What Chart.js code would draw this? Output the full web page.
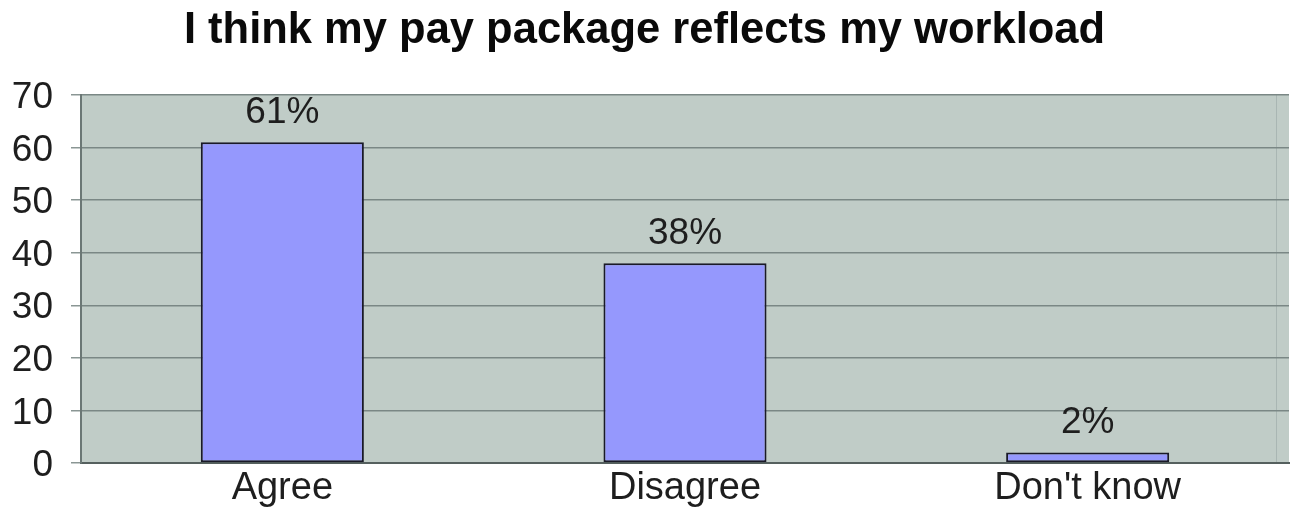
<!DOCTYPE html>
<html>
<head>
<meta charset="utf-8">
<title>I think my pay package reflects my workload</title>
<script src="https://cdn.jsdelivr.net/npm/chart.js@4.4.1/dist/chart.umd.min.js"></script>
<style>
  html, body { margin: 0; padding: 0; background: #ffffff; }
  #wrap { width: 1290px; height: 509px; }
</style>
</head>
<body>
<div id="wrap"><canvas id="chart" width="1290" height="509"></canvas></div>
<script>
// Survey responses (percent of respondents)
const categories = ["Agree", "Disagree", "Don't know"];
const percentValues = [61, 38, 2];
const valueLabels = ["61%", "38%", "2%"];
const yTicks = [0, 10, 20, 30, 40, 50, 60, 70];

const FONT = "'Liberation Sans', Arial, Helvetica, sans-serif";

// Grey-green plot background and frame
const plotBackground = {
  id: 'plotBackground',
  beforeDraw(chart) {
    const { ctx, chartArea: a } = chart;
    ctx.save();
    ctx.fillStyle = '#c0ccc7';
    ctx.fillRect(a.left, a.top, a.right - a.left, a.bottom - a.top);
    ctx.strokeStyle = '#a9b6b3';
    ctx.lineWidth = 1;
    ctx.beginPath();
    ctx.moveTo(a.right - 12.5, a.top);
    ctx.lineTo(a.right - 12.5, a.bottom);
    ctx.stroke();
    ctx.restore();
  }
};

// Percentage text above each bar
const barValueLabels = {
  id: 'barValueLabels',
  afterDatasetsDraw(chart) {
    const { ctx } = chart;
    const meta = chart.getDatasetMeta(0);
    ctx.save();
    ctx.font = `37px ${FONT}`;
    ctx.fillStyle = '#1e1e1e';
    ctx.textAlign = 'center';
    ctx.textBaseline = 'alphabetic';
    meta.data.forEach((bar, i) => {
      ctx.fillText(valueLabels[i], bar.x, bar.y - 19);
    });
    ctx.restore();
  }
};

new Chart(document.getElementById('chart'), {
  type: 'bar',
  data: {
    labels: categories,
    datasets: [{
      data: percentValues,
      backgroundColor: '#9598fd',
      borderColor: '#1a1a28',
      borderWidth: 2,
      borderSkipped: false,
      barPercentage: 0.405,
      categoryPercentage: 1.0
    }]
  },
  options: {
    responsive: false,
    animation: false,
    layout: { padding: { left: 0, right: 1, top: 0, bottom: 0 } },
    plugins: {
      legend: { display: false },
      tooltip: { enabled: false },
      title: {
        display: true,
        text: 'I think my pay package reflects my workload',
        color: '#0a0a0a',
        font: { family: FONT, size: 43.5, weight: 'bold', lineHeight: 1.2 },
        padding: { top: 5, bottom: 37.8 }
      }
    },
    scales: {
      x: {
        offset: true,
        grid: { display: false },
        border: { display: true, color: '#55605e', width: 2 },
        ticks: {
          color: '#1e1e1e',
          font: { family: FONT, size: 38 },
          padding: -5,
          maxRotation: 0
        },
        afterFit(axis) { axis.height = 46; }
      },
      y: {
        min: 0,
        max: 70,
        afterBuildTicks(axis) { axis.ticks = yTicks.map(v => ({ value: v })); },
        grid: {
          color: '#7a8785',
          lineWidth: 1.5,
          drawTicks: true,
          tickLength: 10,
          tickColor: '#8a9694'
        },
        border: { display: true, color: '#6b7775', width: 2 },
        ticks: {
          color: '#1e1e1e',
          font: { family: FONT, size: 37 },
          padding: 18,
          labelOffset: 3
        },
        afterFit(axis) { axis.width = 81; }
      }
    }
  },
  plugins: [plotBackground, barValueLabels]
});
</script>
</body>
</html>
